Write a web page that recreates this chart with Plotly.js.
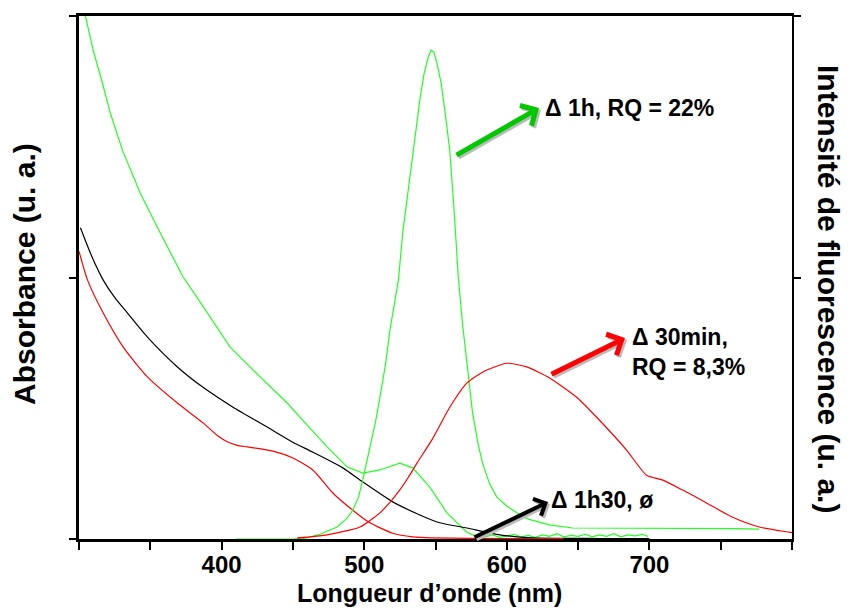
<!DOCTYPE html>
<html>
<head>
<meta charset="utf-8">
<script src="https://cdn.plot.ly/plotly-3.0.1.min.js"></script>
<style>html,body{margin:0;padding:0;background:#fff;}#chart{width:851px;height:608px;}</style>
</head>
<body>
<div id="chart"></div>
<script>
// ---- Data ----
// Absorbance, Δ 1h (green)
const absGreenX = [302,304.5,310,316.5,322,330.5,343,357,373,383,392,406,427,446,457,474,488,499,511,525,534,546,558,572,576,580,585,590,595,600,605,610,615,620,625,630,635,640,645,650,655,660,665,670,675,680,685,690,695,699];
const absGreenY = [1.03,0.998,0.934,0.871,0.814,0.743,0.661,0.585,0.501,0.461,0.424,0.367,0.310,0.260,0.227,0.176,0.138,0.126,0.132,0.145,0.136,0.099,0.050,0.013,0.008,0.006,0.004,0.008,0.003,0.006,0.009,0.004,0.007,0.003,0.008,0.005,0.010,0.004,0.007,0.005,0.009,0.004,0.008,0.005,0.010,0.004,0.008,0.006,0.009,0.005];
// Absorbance, Δ 1h30 (black)
const absBlackX = [301,309,317,325,334,348,369,387,408,432,450,464,485,499,520,539,553,572,595,618,665,700];
const absBlackY = [0.595,0.540,0.495,0.462,0.432,0.386,0.329,0.290,0.252,0.214,0.185,0.166,0.136,0.109,0.071,0.046,0.031,0.021,0.008,0.002,0.001,0.001];
// Absorbance, Δ 30min (red)
const absRedX = [300,306,317,331,348,369,387,397,404,411,418,436,450,464,478,492,504,520,534,548,600,640];
const absRedY = [0.550,0.495,0.432,0.367,0.310,0.260,0.222,0.198,0.186,0.179,0.176,0.168,0.155,0.132,0.088,0.055,0.031,0.011,0.004,0.002,0.001,0.001];
// Fluorescence, Δ 1h (green)
const emGreenX = [410,450,460,470,481,488,492,496,499,502,504,508,511,515,518,521,524,527,530,533,536,539,542,545,547,549,551,554,557,560,563,566,569,572,576,580,583,588,593,600,607,615,630,646,680,733,760,777];
const emGreenY = [0,0,0.002,0.010,0.023,0.040,0.055,0.080,0.113,0.150,0.176,0.225,0.271,0.335,0.399,0.450,0.495,0.585,0.650,0.712,0.780,0.839,0.890,0.922,0.935,0.930,0.910,0.871,0.810,0.743,0.630,0.500,0.410,0.336,0.241,0.180,0.145,0.105,0.080,0.063,0.050,0.038,0.027,0.021,0.021,0.021,0.020,0.019];
// Fluorescence, Δ 30min (red)
const emRedX = [453,474,497,511,518,525,531,537,548,560,572,583,600,614,630,649,665,684,698,709,723,740,758,777,798,800];
const emRedY = [0.002,0.008,0.023,0.050,0.070,0.094,0.118,0.145,0.192,0.252,0.298,0.319,0.336,0.329,0.308,0.271,0.227,0.170,0.122,0.113,0.094,0.069,0.042,0.023,0.013,0.012];

const xTickVals = [300,350,400,450,500,550,600,650,700,750,800];
const xTickText = ['','','400','','500','','600','','700','',''];

const xTitle = 'Longueur d\u2019onde (nm)';
const yTitleLeft = 'Absorbance (u. a.)';
const yTitleRight = 'Intensit\u00e9 de fluorescence (u. a.)';
const labelGreen = '\u0394 1h, RQ = 22%';
const labelRed = '\u0394 30min,<br>RQ = 8,3%';
const labelBlack = '\u0394 1h30, \u00f8';

const FONT = 'Arial, "Liberation Sans", sans-serif';
const GREEN = '#22ff22';

const traces = [
  {x: absGreenX, y: absGreenY, mode:'lines', line:{color:GREEN, width:1.2}, yaxis:'y'},
  {x: absBlackX, y: absBlackY, mode:'lines', line:{color:'#000', width:1.2, shape:'spline', smoothing:0.6}, yaxis:'y'},
  {x: absRedX, y: absRedY, mode:'lines', line:{color:'#ff0000', width:1.2, shape:'spline', smoothing:0.6}, yaxis:'y'},
  {x: emGreenX, y: emGreenY, mode:'lines', line:{color:GREEN, width:1.2}, yaxis:'y2'},
  {x: emRedX, y: emRedY, mode:'lines', line:{color:'#ff0000', width:1.2, shape:'spline', smoothing:0.6}, yaxis:'y2'}
];

// plot area in pixels: x 79..792, y 16..539
const L=79, R=792, T=16, B=539;
function px(x){return (x-L)/(R-L);}
function py(y){return (B-y)/(B-T);}

function arrow(x0,y0,x1,y1,color,w){
  return {xref:'paper', yref:'paper', axref:'pixel', ayref:'pixel',
    x:px(x1), y:py(y1), ax:(x0-x1), ay:(y0-y1), text:'', showarrow:true,
    arrowhead:4, arrowsize:0.9, arrowwidth:w, arrowcolor:color, standoff:0};
}
function label(x,y,text){
  return {xref:'paper', yref:'paper', x:px(x), y:py(y), text:text, showarrow:false,
    xanchor:'left', yanchor:'middle', align:'left',
    font:{family:FONT, size:23, color:'#000', weight:'bold'}};
}

const annotations = [
  arrow(457,158,541,110,'#bbbbbb',5),
  arrow(455,156,539,108,'#00c800',5),
  arrow(552,377,627,340,'#bbbbbb',5),
  arrow(550,375,625,338,'#ff0000',5),
  arrow(475,540,550,504,'#bbbbbb',4),
  arrow(473,538,548,502,'#000000',4),
  label(543,108,labelGreen),
  label(630,352,labelRed),
  label(549,500,labelBlack),
  {xref:'paper', yref:'paper', x:px(429), y:py(593), text:xTitle, showarrow:false,
   xanchor:'center', yanchor:'middle', font:{family:FONT, size:25, color:'#000', weight:'bold'}},
  {xref:'paper', yref:'paper', x:px(24), y:py(274), text:yTitleLeft, showarrow:false, textangle:-90,
   xanchor:'center', yanchor:'middle', font:{family:FONT, size:30, color:'#000', weight:'bold'}},
  {xref:'paper', yref:'paper', x:px(829), y:py(289), text:yTitleRight, showarrow:false, textangle:90,
   xanchor:'center', yanchor:'middle', font:{family:FONT, size:30, color:'#000', weight:'bold'}}
];

const layout = {
  width:851, height:608,
  margin:{l:L, r:851-R, t:T, b:608-B},
  paper_bgcolor:'#fff', plot_bgcolor:'#fff',
  showlegend:false,
  xaxis:{range:[300,800], tickvals:xTickVals, ticktext:xTickText, ticks:'outside', ticklen:8, tickwidth:2,
    tickcolor:'#000', showline:true, linewidth:3, linecolor:'#000', mirror:true, showgrid:false, zeroline:false,
    ticklabelstandoff:-6,
    tickfont:{family:FONT, size:24, color:'#000', weight:'bold'}},
  yaxis:{range:[0,1], tickvals:[0,0.5,1], ticks:'outside', ticklen:7, tickwidth:2, tickcolor:'#000',
    showticklabels:false, showline:true, linewidth:3, linecolor:'#000', showgrid:false, zeroline:false},
  yaxis2:{range:[0,1], overlaying:'y', side:'right', tickvals:[0.5,1], ticks:'outside', ticklen:7, tickwidth:2,
    tickcolor:'#000', showticklabels:false, showline:true, linewidth:2, linecolor:'#000', showgrid:false, zeroline:false},
  annotations: annotations
};

Plotly.newPlot('chart', traces, layout, {staticPlot:true, displayModeBar:false});
</script>
</body>
</html>
